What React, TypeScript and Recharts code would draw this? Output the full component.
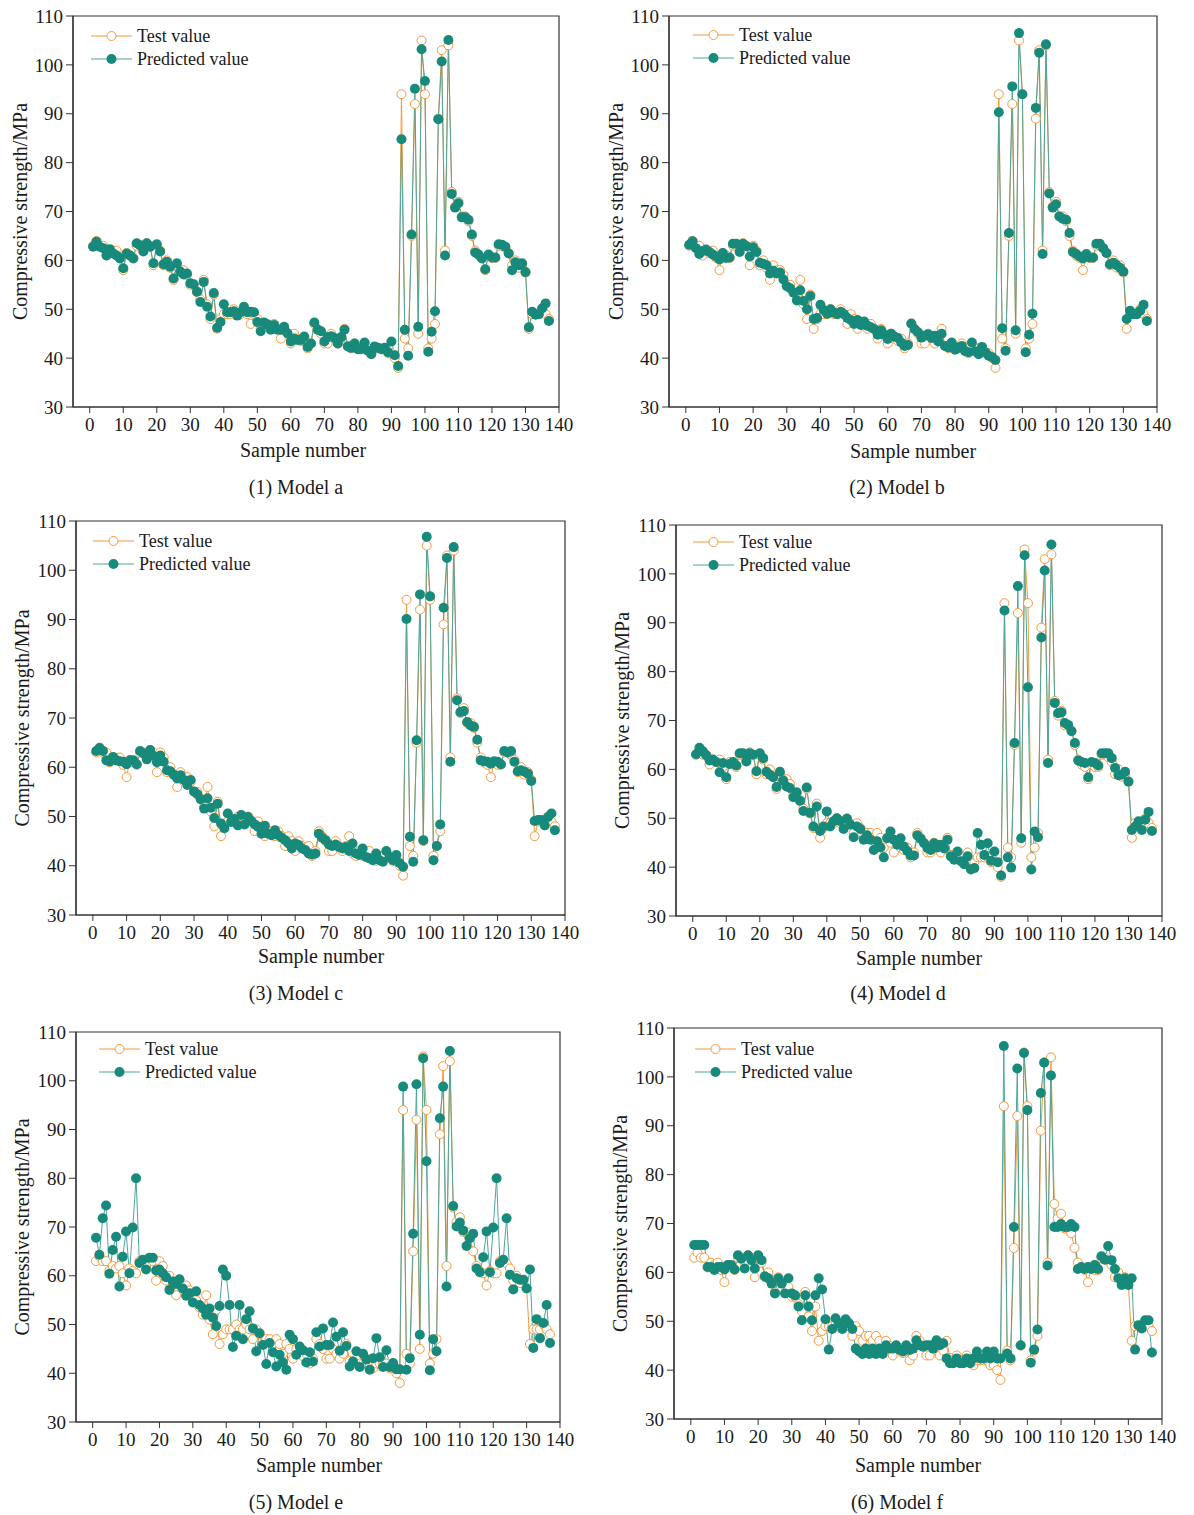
import React from 'react';
import { LineChart, Line, XAxis, YAxis, ReferenceArea, Legend } from 'recharts';

const FONT = '"Liberation Serif", "Times New Roman", serif';
const TEST_COLOR = '#F59A3C';
const PRED_COLOR = '#178A7B';
const PRED_LINE_COLOR = '#4FA69B';
const INK = '#1a1a1a';

const X_TICKS = [0, 10, 20, 30, 40, 50, 60, 70, 80, 90, 100, 110, 120, 130, 140];
const Y_TICKS = [30, 40, 50, 60, 70, 80, 90, 100, 110];

const TEST = [
  63, 64, 63, 63, 61, 62, 61.5, 62, 60.5, 58, 61.5, 61, 60.5, 63, 63, 62, 63.5, 63, 59, 63,
  62, 59, 60, 58.5, 56, 59, 58, 58, 57, 55, 55, 53.5, 52, 56, 51, 48, 53, 46, 48, 49,
  49, 49, 50, 49, 49, 50, 49, 47, 49, 48, 46, 47, 47, 46, 47, 46, 44, 46, 45, 43,
  45, 44, 43.5, 44, 42, 43, 47, 46, 45, 43, 43, 45, 44, 43, 44, 46, 42.5, 42, 43, 42,
  42, 43, 41.5, 41, 42, 42, 42, 42, 41, 41, 40, 38, 94, 44, 42, 65, 92, 45, 105, 94,
  42, 44, 47, 89, 103, 62, 104, 74, 71, 72, 69, 69, 68, 65, 62, 61, 60.5, 58, 61, 60.5,
  60.5, 63, 63, 62.5, 61.5, 59, 60, 58.5, 59, 57.5, 46, 49, 49, 49, 50, 49, 48,
];

const PRED_A = [
  62.8, 63.8, 62.8, 62.5, 61.0, 62.3, 61.4, 61.0, 60.4, 58.4, 61.4, 61.0, 60.4, 63.5, 63.1, 61.8, 63.5, 62.8, 59.4, 63.3,
  61.8, 59.2, 59.7, 58.7, 56.3, 59.4, 57.7, 57.1, 57.3, 55.3, 55.1, 53.6, 51.5, 55.6, 50.5, 48.5, 53.3, 46.2, 47.4, 51.0,
  49.4, 49.4, 49.6, 48.7, 49.4, 50.5, 49.4, 49.5, 49.4, 47.4, 45.5, 47.3, 46.9, 45.8, 46.8, 45.8, 45.8, 46.4, 45.1, 43.4,
  44.0, 43.7, 43.7, 44.4, 42.3, 43.0, 47.3, 45.8, 45.5, 43.4, 44.3, 44.5, 44.1, 43.0, 44.3, 45.8, 42.4, 42.1, 43.0, 41.8,
  41.8, 43.2, 41.5, 40.8, 42.4, 42.1, 41.8, 42.1, 41.2, 43.4, 40.6, 38.4, 84.8, 45.8, 40.5, 65.3, 95.1, 46.4, 103.2, 96.7,
  41.3, 45.4, 49.6, 88.9, 100.7, 61.0, 105.1, 73.6, 70.8, 71.7, 68.8, 68.8, 68.3, 65.3, 61.6, 61.2, 60.4, 58.2, 61.2, 60.6,
  60.6, 63.3, 63.2, 62.8, 61.4, 58.0, 59.6, 59.0, 59.4, 57.6, 46.3, 49.5, 48.9, 49.0, 50.2, 51.2, 47.6,
];

const PRED_B = [
  63.2, 63.9, 62.5, 61.3, 61.9, 62.2, 61.7, 61.2, 60.8, 60.2, 61.5, 60.5, 60.6, 63.4, 63.4, 61.7, 63.4, 62.9, 60.8, 62.7,
  61.7, 59.5, 59.3, 59.0, 57.3, 57.9, 57.3, 57.5, 56.1, 54.7, 54.3, 53.4, 51.8, 53.9, 51.7, 50.0, 52.7, 48.0, 48.2, 50.9,
  49.8, 49.1, 50.0, 49.3, 49.0, 49.5, 49.0, 48.2, 47.8, 47.0, 47.8, 46.8, 47.5, 46.6, 46.3, 45.9, 44.8, 45.7, 44.8, 43.9,
  45.0, 44.4, 44.1, 43.2, 42.5, 42.7, 47.1, 45.9, 45.3, 44.2, 44.6, 44.9, 44.1, 44.6, 43.4, 45.0, 42.5, 42.2, 43.2, 41.7,
  42.1, 42.5, 41.4, 41.2, 43.2, 41.4, 40.8, 42.3, 41.2, 40.5, 40.2, 39.6, 90.3, 46.1, 41.5, 65.6, 95.6, 45.7, 106.5, 94.0,
  41.2, 44.8, 49.1, 91.2, 102.5, 61.3, 104.2, 73.7, 70.8, 71.5, 69.0, 68.5, 68.3, 65.6, 61.7, 61.3, 60.8, 60.4, 61.3, 60.6,
  60.6, 63.4, 63.4, 62.5, 61.5, 59.2, 59.5, 59.0, 58.5, 57.7, 48.0, 49.7, 49.0, 49.0, 49.7, 50.9, 47.6,
];

const PRED_C = [
  63.3, 63.9, 63.3, 61.4, 61.2, 62.1, 61.4, 61.2, 61.1, 60.6, 61.4, 61.4, 60.6, 63.3, 62.8, 61.6, 63.5, 62.3, 61.0, 62.4,
  61.1, 59.4, 59.2, 58.5, 57.7, 58.4, 57.4, 56.4, 57.4, 55.1, 54.5, 53.5, 51.6, 53.7, 51.8, 49.7, 52.6, 48.6, 47.6, 50.6,
  48.9, 49.5, 48.2, 50.3, 48.4, 49.9, 49.1, 48.4, 47.9, 46.5, 48.1, 46.5, 46.2, 47.2, 46.2, 45.7, 45.2, 44.5, 43.5, 44.5,
  44.2, 43.5, 43.2, 42.5, 42.3, 42.5, 46.5, 45.7, 45.2, 44.3, 44.0, 44.3, 43.8, 43.5, 43.8, 43.0, 44.5, 42.5, 42.2, 43.5,
  41.8, 41.5, 41.1, 42.5, 41.1, 40.8, 43.0, 41.8, 41.1, 42.2, 40.5, 39.8, 90.1, 45.9, 40.8, 65.5, 95.1, 45.2, 106.8, 94.7,
  41.1, 44.0, 48.4, 92.4, 102.5, 61.1, 104.7, 73.6, 71.2, 71.4, 69.2, 68.5, 68.2, 65.6, 61.4, 61.2, 61.1, 60.7, 61.2, 61.1,
  60.6, 63.3, 63.0, 63.3, 61.1, 59.2, 59.4, 59.1, 58.7, 57.2, 49.1, 49.3, 49.3, 48.2, 49.9, 50.6, 47.2,
];

const PRED_D = [
  63.1, 64.4, 63.7, 62.9, 61.8, 62.0, 61.5, 59.4, 61.3, 58.4, 61.1, 61.5, 60.8, 63.3, 63.3, 61.6, 63.3, 63.0, 59.6, 63.3,
  62.3, 59.5, 58.9, 58.4, 56.4, 59.5, 57.7, 56.5, 56.2, 54.3, 55.3, 53.6, 51.5, 56.3, 51.1, 48.3, 52.4, 47.4, 48.3, 51.4,
  48.3, 49.4, 50.0, 49.4, 47.8, 49.9, 48.7, 46.1, 48.3, 47.8, 45.6, 46.5, 45.6, 43.5, 45.3, 44.0, 42.0, 45.9, 47.3, 45.6,
  44.6, 45.9, 44.2, 43.3, 42.4, 42.4, 46.5, 45.8, 44.9, 43.9, 43.5, 44.9, 44.0, 44.6, 43.8, 45.6, 42.2, 41.5, 43.2, 41.2,
  40.6, 42.2, 39.5, 39.8, 47.0, 44.6, 42.5, 44.9, 41.3, 43.2, 41.0, 38.3, 92.5, 42.0, 39.9, 65.4, 97.5, 45.9, 103.8, 76.8,
  39.5, 47.3, 46.1, 87.0, 100.7, 61.3, 106.0, 73.6, 71.5, 71.7, 69.5, 69.1, 67.8, 65.4, 61.8, 61.5, 61.3, 58.4, 61.5, 61.3,
  60.8, 63.3, 63.3, 63.3, 62.3, 60.3, 58.8, 58.9, 59.5, 57.5, 47.6, 48.3, 49.4, 47.6, 49.7, 51.3, 47.4,
];

const PRED_E = [
  67.8, 64.3, 71.8, 74.4, 60.4, 65.3, 68.0, 57.8, 63.9, 69.1, 60.5, 69.9, 80.0, 62.6, 63.3, 61.3, 63.7, 63.7, 61.1, 61.3,
  60.5, 59.7, 57.1, 58.8, 58.3, 59.3, 57.4, 55.9, 56.4, 54.5, 56.8, 54.0, 53.3, 52.0, 53.3, 51.4, 49.7, 53.8, 61.3, 60.0,
  54.0, 45.4, 47.7, 54.0, 47.0, 51.1, 52.7, 49.2, 44.5, 48.2, 45.8, 41.9, 46.2, 44.3, 41.4, 43.8, 42.2, 40.7, 47.9, 47.0,
  43.8, 45.5, 44.7, 42.2, 44.3, 42.4, 48.4, 45.5, 49.2, 45.8, 45.8, 50.4, 47.5, 44.6, 48.4, 45.6, 41.4, 42.4, 44.5, 41.3,
  44.0, 42.8, 40.7, 43.1, 47.2, 43.3, 41.3, 44.7, 41.3, 42.1, 40.8, 40.8, 98.8, 40.7, 43.1, 68.6, 99.3, 47.9, 104.6, 83.5,
  40.6, 47.0, 44.5, 92.3, 98.8, 57.8, 106.1, 74.3, 70.1, 70.9, 69.3, 66.1, 67.7, 68.6, 61.5, 60.7, 63.8, 69.1, 60.7, 69.9,
  80.0, 62.6, 63.3, 71.8, 60.2, 57.2, 59.5, 59.2, 59.2, 57.4, 61.3, 45.2, 51.1, 47.2, 50.3, 54.0, 46.2,
];

const PRED_F = [
  65.6, 65.6, 65.6, 65.6, 61.1, 61.1, 60.5, 61.1, 61.1, 60.6, 61.5, 61.5, 60.6, 63.5, 62.8, 60.8, 63.5, 62.5, 60.8, 63.5,
  62.5, 59.2, 58.8, 57.7, 55.7, 58.8, 57.7, 55.7, 58.8, 55.7, 55.3, 53.0, 50.2, 55.3, 53.0, 50.2, 55.3, 58.8, 56.5, 50.4,
  44.2, 48.4, 50.6, 49.6, 48.4, 50.4, 49.6, 48.4, 44.4, 43.8, 43.3, 44.4, 43.3, 44.4, 43.3, 44.4, 43.3, 45.1, 44.4, 44.4,
  45.1, 44.2, 43.8, 45.1, 44.1, 44.4, 46.1, 45.1, 44.8, 45.1, 45.1, 44.4, 46.1, 45.1, 45.5, 42.4, 41.4, 41.4, 42.4, 41.4,
  41.4, 42.4, 41.4, 42.4, 43.8, 42.4, 42.4, 43.8, 42.4, 43.8, 42.4, 42.4, 106.3, 43.4, 42.4, 69.3, 101.7, 45.1, 104.9, 93.2,
  41.5, 44.2, 48.3, 96.7, 102.9, 61.4, 100.3, 69.3, 69.3, 69.9, 69.3, 69.3, 69.9, 69.3, 60.7, 61.1, 60.7, 61.1, 60.7, 61.5,
  60.7, 63.3, 62.6, 65.4, 62.5, 60.7, 58.8, 57.4, 58.8, 57.4, 58.8, 44.2, 49.2, 48.5, 50.2, 50.2, 43.6,
];

const CAPTIONS = ['(1) Model a', '(2) Model b', '(3) Model c', '(4) Model d', '(5) Model e', '(6) Model f'];
const PREDS = [PRED_A, PRED_B, PRED_C, PRED_D, PRED_E, PRED_F];

// layout (page pixel coordinates)
const LAYOUT = [
  { divX: 0, divY: 0, L: 73, T: 16, R: 559, B: 407, yLabX: 19.5, xLabX: 303, xLabY: 450, capX: 296, capY: 487, legX: 91, legY: 36 },
  { divX: 597, divY: 0, L: 669, T: 16, R: 1157, B: 407, yLabX: 616, xLabX: 913, xLabY: 451, capX: 897, capY: 487, legX: 693, legY: 35 },
  { divX: 0, divY: 505, L: 76, T: 521, R: 565, B: 915, yLabX: 22, xLabX: 321, xLabY: 956, capX: 296, capY: 993, legX: 93, legY: 541 },
  { divX: 597, divY: 505, L: 676, T: 525, R: 1162, B: 916, yLabX: 622, xLabX: 919, xLabY: 958, capX: 898, capY: 993, legX: 693, legY: 542 },
  { divX: 0, divY: 1010, L: 76, T: 1032, R: 560, B: 1422, yLabX: 22, xLabX: 319, xLabY: 1465, capX: 296, capY: 1502, legX: 99, legY: 1049 },
  { divX: 597, divY: 1010, L: 674, T: 1028, R: 1162, B: 1419, yLabX: 620, xLabX: 918, xLabY: 1465, capX: 897, capY: 1502, legX: 695, legY: 1049 },
];

const W = 597;
const H = 480;
const XAXIS_H = 60;

const LegendContent = () => (
  <svg width={200} height={40} style={{ display: 'block', overflow: 'visible' }}>
    <line x1={0} x2={41} y1={8} y2={8} stroke={TEST_COLOR} strokeWidth={1} />
    <circle cx={20.5} cy={8} r={4.5} fill="#fff" stroke={TEST_COLOR} strokeWidth={1} />
    <text x={46} y={8} dy="0.35em" fontSize={18} fontFamily={FONT} fill={INK}>Test value</text>
    <line x1={0} x2={41} y1={31} y2={31} stroke={PRED_LINE_COLOR} strokeWidth={1} />
    <circle cx={20.5} cy={31} r={5} fill={PRED_COLOR} />
    <text x={46} y={31} dy="0.35em" fontSize={18} fontFamily={FONT} fill={INK}>Predicted value</text>
  </svg>
);

function Panel({ idx }: { idx: number }) {
  const lay = LAYOUT[idx];
  const pred = PREDS[idx];
  const data = TEST.map((t, i) => ({ n: i + 1, test: t, pred: pred[i] }));
  const yAxisW = lay.L - lay.divX;
  const margin = {
    top: lay.T - lay.divY,
    right: lay.divX + W - lay.R,
    bottom: lay.divY + H - lay.B - XAXIS_H,
    left: 0,
  };
  return (
    <div style={{ position: 'absolute', left: lay.divX, top: lay.divY, width: W, height: H }}>
      <LineChart width={W} height={H} data={data} margin={margin}>
        <XAxis
          dataKey="n"
          type="number"
          domain={[-5, 140]}
          ticks={X_TICKS}
          interval={0}
          allowDataOverflow
          height={XAXIS_H}
          tickSize={6}
          tickMargin={5}
          axisLine={{ stroke: '#333', strokeWidth: 1.2 }}
          tickLine={{ stroke: '#333', strokeWidth: 1 }}
          tick={{ fontSize: 19, fill: INK, fontFamily: FONT }}
          label={{
            value: 'Sample number',
            position: 'center',
            dx: lay.xLabX - (lay.L + lay.R) / 2,
            dy: lay.xLabY - (lay.B + XAXIS_H / 2),
            fontSize: 20,
            fill: INK,
            fontFamily: FONT,
          }}
        />
        <YAxis
          type="number"
          domain={[30, 110]}
          ticks={Y_TICKS}
          interval={0}
          allowDataOverflow
          width={yAxisW}
          tickSize={7}
          tickMargin={3}
          axisLine={{ stroke: '#333', strokeWidth: 1.2 }}
          tickLine={{ stroke: '#333', strokeWidth: 1 }}
          tick={{ fontSize: 19, fill: INK, fontFamily: FONT }}
          label={{
            value: 'Compressive strength/MPa',
            angle: -90,
            position: 'center',
            dx: lay.yLabX - lay.divX - yAxisW / 2,
            fontSize: 20,
            fill: INK,
            fontFamily: FONT,
          }}
        />
        <ReferenceArea x1={-5} x2={140} y1={30} y2={110} fill="none" stroke="#333" strokeWidth={1.2} />
        <Legend
          layout="vertical"
          align="center"
          verticalAlign="middle"
          content={<LegendContent />}
          wrapperStyle={{ left: lay.legX - lay.divX, top: lay.legY - 8 - lay.divY, width: 200, height: 40 }}
        />
        <Line
          dataKey="test"
          stroke={TEST_COLOR}
          strokeWidth={1}
          dot={{ r: 4.5, fill: '#fff', stroke: TEST_COLOR, strokeWidth: 1 }}
          activeDot={false}
          isAnimationActive={false}
        />
        <Line
          dataKey="pred"
          stroke={PRED_LINE_COLOR}
          strokeWidth={1}
          dot={{ r: 5, fill: PRED_COLOR, stroke: PRED_COLOR, strokeWidth: 0 }}
          activeDot={false}
          isAnimationActive={false}
        />
      </LineChart>
      <div
        style={{
          position: 'absolute',
          left: lay.capX - lay.divX - 100,
          top: lay.capY - lay.divY - 12,
          width: 200,
          textAlign: 'center',
          fontFamily: FONT,
          fontSize: 20,
          lineHeight: '24px',
          color: INK,
        }}
      >
        {CAPTIONS[idx]}
      </div>
    </div>
  );
}

export default function App() {
  return (
    <div style={{ position: 'absolute', left: 0, top: 0, width: 1194, height: 1515, background: '#fff' }}>
      {[0, 1, 2, 3, 4, 5].map((i) => (
        <Panel key={i} idx={i} />
      ))}
    </div>
  );
}
